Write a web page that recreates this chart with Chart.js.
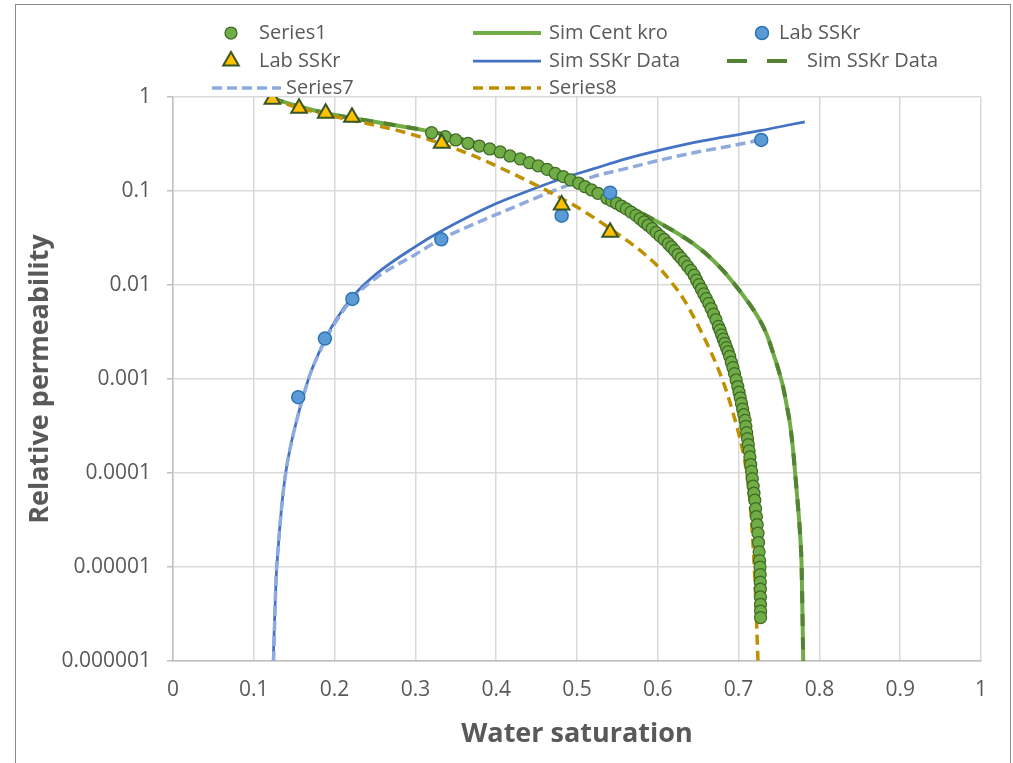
<!DOCTYPE html>
<html lang="en">
<head>
    <meta charset="UTF-8">
    <title>Relative permeability</title>
    <style>
        body {
            margin: 0;
            background: #ffffff;
        }

        .chart-box {
            position: relative;
            width: 1013px;
            height: 763px;
        }

        .frame {
            position: absolute;
            left: 15px;
            top: 4px;
            width: 994px;
            height: 800px;
            border: 1px solid #8c8c8c;
            pointer-events: none;
        }
    </style>
</head>
<body>
    <div class="chart-box">
        <canvas id="kr-chart"></canvas>
        <div class="frame"></div>
    </div>

    <script src="https://cdn.jsdelivr.net/npm/chart.js"></script>
    <script>
        // tick labels
        const xTickLabels = ['0', '0.1', '0.2', '0.3', '0.4', '0.5', '0.6', '0.7', '0.8', '0.9', '1'];
        const yTickValues = [0.000001, 0.00001, 0.0001, 0.001, 0.01, 0.1, 1];
        const yTickLabels = ['0.000001', '0.00001', '0.0001', '0.001', '0.01', '0.1', '1'];

        // Series1 - green circles (kro points)
        const series1Sw = [0.320, 0.337, 0.350, 0.365, 0.379, 0.392, 0.405, 0.417, 0.430, 0.441, 0.452, 0.463, 0.473,
            0.483, 0.492, 0.502, 0.510, 0.518, 0.526, 0.537, 0.543, 0.549, 0.555, 0.561, 0.567, 0.573, 0.578, 0.583,
            0.588, 0.593, 0.598, 0.603, 0.608, 0.613, 0.617, 0.621, 0.625, 0.629, 0.633, 0.637, 0.641, 0.645, 0.648,
            0.651, 0.654, 0.657, 0.660, 0.663, 0.666, 0.669, 0.672, 0.675, 0.677, 0.679, 0.681, 0.683, 0.685, 0.687,
            0.689, 0.691, 0.693, 0.695, 0.697, 0.699, 0.7005, 0.702, 0.7035, 0.705, 0.7065, 0.708, 0.709, 0.710, 0.711,
            0.712, 0.713, 0.714, 0.715, 0.716, 0.717, 0.718, 0.719, 0.720, 0.721, 0.722, 0.723, 0.724, 0.7247, 0.7254,
            0.726, 0.7265, 0.7267, 0.7268, 0.7269, 0.727, 0.7271, 0.7272, 0.7272];
        const series1Kr = [0.417, 0.378, 0.349, 0.322, 0.301, 0.280, 0.260, 0.236, 0.219, 0.200, 0.185, 0.170, 0.154,
            0.142, 0.131, 0.121, 0.111, 0.1025, 0.0945, 0.0836, 0.0785, 0.0741, 0.0692, 0.0646, 0.0596, 0.0550, 0.0507,
            0.0468, 0.0432, 0.0398, 0.0363, 0.0331, 0.0305, 0.0275, 0.0254, 0.0232, 0.0211, 0.0193, 0.0176, 0.0158,
            0.0143, 0.0127, 0.0113, 0.0101, 0.00902, 0.00804, 0.00716, 0.00638, 0.00562, 0.00490, 0.00427, 0.00363,
            0.00331, 0.00295, 0.00266, 0.00240, 0.00216, 0.00195, 0.00174, 0.00151, 0.00132, 0.00114, 0.000977,
            0.000832, 0.000724, 0.000631, 0.000550, 0.000479, 0.000417, 0.000363, 0.000313, 0.000269, 0.000232,
            0.000200, 0.000172, 0.000148, 0.000123, 0.000104, 0.0000871, 0.0000724, 0.0000610, 0.0000513, 0.0000417,
            0.0000343, 0.0000282, 0.0000229, 0.0000182, 0.0000145, 0.0000117, 0.00001, 0.0000083, 0.0000069,
            0.0000058, 0.0000048, 0.0000040, 0.0000034, 0.0000029];

        // Sim Cent kro - light green solid
        const simCentSw = [0.122, 0.157, 0.190, 0.223, 0.273, 0.320, 0.368, 0.417, 0.463, 0.501, 0.541, 0.600, 0.644,
            0.670, 0.695, 0.726, 0.735, 0.743, 0.750, 0.755, 0.760, 0.764, 0.767, 0.770, 0.773, 0.776, 0.778, 0.780];
        const simCentKr = [0.97, 0.788, 0.671, 0.593, 0.504, 0.428, 0.335, 0.245, 0.175, 0.127, 0.087, 0.0468, 0.0275,
            0.0178, 0.0102, 0.00427, 0.00295, 0.00186, 0.0012, 0.00083, 0.0005, 0.000316, 0.00019, 0.0001, 0.00005,
            0.000023, 0.00001, 0.000001];

        // Lab SSKr - blue circles (krw)
        const labKrwSw = [0.155, 0.188, 0.222, 0.332, 0.481, 0.541, 0.728];
        const labKrwKr = [0.00064, 0.00269, 0.0071, 0.0306, 0.0546, 0.096, 0.349];

        // Lab SSKr - yellow triangles (kro)
        const labKroSw = [0.123, 0.156, 0.189, 0.2215, 0.3325, 0.481, 0.541];
        const labKroKr = [0.945, 0.758, 0.671, 0.608, 0.322, 0.071, 0.0363];

        // Sim SSKr Data - blue solid (krw)
        const simKrwSw = [0.124, 0.1275, 0.1303, 0.1345, 0.1386, 0.1448, 0.153, 0.1613, 0.1696, 0.180, 0.190, 0.200,
            0.222, 0.252, 0.299, 0.330, 0.400, 0.438, 0.479, 0.520, 0.5615, 0.6027, 0.644, 0.685, 0.7265, 0.768, 0.782];
        const simKrwKr = [0.000001, 0.0000072, 0.0000166, 0.000044, 0.000089, 0.00018, 0.00036, 0.00066, 0.00112, 0.00185,
            0.00284, 0.00405, 0.00745, 0.0132, 0.0253, 0.0366, 0.0735, 0.099, 0.1335, 0.172, 0.221, 0.272, 0.327, 0.378,
            0.438, 0.516, 0.545];

        // Sim SSKr Data - dark green dashed (kro)
        const simKroSw = [0.122, 0.157, 0.190, 0.223, 0.273, 0.320, 0.368, 0.417, 0.463, 0.501, 0.541, 0.600, 0.644,
            0.670, 0.695, 0.726, 0.735, 0.743, 0.750, 0.755, 0.760, 0.764, 0.767, 0.770, 0.773, 0.776, 0.778, 0.780];
        const simKroKr = [0.97, 0.788, 0.671, 0.593, 0.504, 0.428, 0.335, 0.245, 0.175, 0.127, 0.087, 0.0468, 0.0275,
            0.0178, 0.0102, 0.00427, 0.00295, 0.00186, 0.0012, 0.00083, 0.0005, 0.000316, 0.00019, 0.0001, 0.00005,
            0.000023, 0.00001, 0.000001];

        // Series7 - light blue dashed
        const series7Sw = [0.1245, 0.1275, 0.1303, 0.1345, 0.1386, 0.1448, 0.153, 0.1613, 0.1696, 0.180, 0.190, 0.200,
            0.222, 0.252, 0.299, 0.330, 0.384, 0.425, 0.479, 0.520, 0.5615, 0.6027, 0.644, 0.685, 0.716, 0.724];
        const series7Kr = [0.000001, 0.0000072, 0.0000166, 0.000044, 0.000089, 0.00018, 0.00036, 0.00066, 0.00112, 0.00182,
            0.00275, 0.00389, 0.00708, 0.0120, 0.0209, 0.0302, 0.049, 0.069, 0.107, 0.142, 0.174, 0.213, 0.255, 0.296,
            0.334, 0.347];

        // Series8 - gold dashed
        const series8Sw = [0.122, 0.157, 0.190, 0.223, 0.273, 0.314, 0.343, 0.376, 0.417, 0.458, 0.480, 0.500, 0.541,
            0.582, 0.600, 0.615, 0.632, 0.648, 0.665, 0.681, 0.693, 0.704, 0.710, 0.715, 0.720, 0.724];
        const series8Kr = [0.955, 0.759, 0.646, 0.562, 0.452, 0.359, 0.295, 0.229, 0.158, 0.106, 0.0841, 0.0676, 0.0398,
            0.0219, 0.0158, 0.0112, 0.00708, 0.00398, 0.00200, 0.00093, 0.00044, 0.00019, 0.0001, 0.00004, 0.0000079,
            0.000001];

        const FONT = '"Open Sans", "DejaVu Sans", sans-serif';
        const TEXT = '#595959';

        function pairs(xs, ys) {
            return xs.map((x, i) => ({ x: x, y: ys[i] }));
        }

        function pointSet(label, xs, ys, style, fill, border, radius, width, order) {
            return {
                label: label, data: pairs(xs, ys), showLine: false, order: order,
                pointStyle: style, pointRadius: radius, pointHoverRadius: radius,
                backgroundColor: fill, borderColor: border, pointBorderWidth: width, borderWidth: width
            };
        }

        function lineSet(label, xs, ys, color, width, dash, order) {
            return {
                label: label, data: pairs(xs, ys), showLine: true, order: order,
                borderColor: color, backgroundColor: color, borderWidth: width, borderDash: dash,
                pointRadius: 0, pointHoverRadius: 0, cubicInterpolationMode: 'monotone', fill: false
            };
        }

        const datasets = [
            pointSet('Series1', series1Sw, series1Kr, 'circle', '#70AD47', '#3F6B25', 6, 1.25, 3),
            lineSet('Sim Cent kro', simCentSw, simCentKr, '#70AD47', 4, [], 14),
            pointSet('Lab SSKr', labKrwSw, labKrwKr, 'circle', '#5B9BD5', '#2E75B6', 6.5, 1.5, 2),
            pointSet('Lab SSKr', labKroSw, labKroKr, 'triangle', '#FFC000', '#375623', 9, 2, 1),
            lineSet('Sim SSKr Data', simKrwSw, simKrwKr, '#4472C4', 2.75, [], 13),
            lineSet('Sim SSKr Data', simKroSw, simKroKr, '#548235', 4, [12, 11], 12),
            lineSet('Series7', series7Sw, series7Kr, '#8FAADC', 3.5, [10, 5], 11),
            lineSet('Series8', series8Sw, series8Kr, '#BF9000', 3.5, [10, 6], 10)
        ];

        // legend laid out like the Excel one: [symbol start, symbol end, text x, row y]
        const legendSlots = [
            [231, 231, 259, 33], [473, 541, 549, 33], [762, 762, 779, 33],
            [231, 231, 259, 61], [473, 541, 549, 61], [727, 787, 807, 61],
            [212, 281, 286, 88], [473, 541, 549, 88]
        ];

        const excelLegend = {
            id: 'excelLegend',
            afterDraw(chart) {
                const ctx = chart.ctx;
                ctx.save();
                chart.data.datasets.forEach((ds, i) => {
                    const [x0, x1, tx, y] = legendSlots[i];
                    if (ds.showLine) {
                        // long dash reads as two bars in the legend
                        const dash = ds.borderDash.length && ds.borderDash[0] > 11 ? [20, 20] : ds.borderDash;
                        ctx.beginPath();
                        ctx.strokeStyle = ds.borderColor;
                        ctx.lineWidth = ds.borderWidth;
                        ctx.setLineDash(dash);
                        ctx.moveTo(x0, y);
                        ctx.lineTo(x1, y);
                        ctx.stroke();
                        ctx.setLineDash([]);
                    } else {
                        ctx.fillStyle = ds.backgroundColor;
                        ctx.strokeStyle = ds.borderColor;
                        ctx.lineWidth = ds.pointBorderWidth;
                        Chart.helpers.drawPoint(ctx, {
                            pointStyle: ds.pointStyle, radius: ds.pointRadius, rotation: 0, borderWidth: ds.pointBorderWidth
                        }, x0, y);
                    }
                    ctx.fillStyle = TEXT;
                    ctx.font = '20px ' + FONT;
                    ctx.textAlign = 'left';
                    ctx.textBaseline = 'middle';
                    ctx.fillText(ds.label, tx, y);
                });
                ctx.restore();
            }
        };

        const ctx = document.getElementById('kr-chart').getContext('2d');
        const krChart = new Chart(ctx, {
            type: 'scatter',
            data: { datasets: datasets },
            plugins: [excelLegend],
            options: {
                responsive: true,
                maintainAspectRatio: false,
                animation: false,
                layout: { padding: { top: 97, right: 32, left: 0, bottom: 0 } },
                plugins: {
                    legend: { display: false },
                    tooltip: { enabled: false }
                },
                scales: {
                    x: {
                        type: 'linear',
                        min: 0,
                        max: 1,
                        afterFit: (scale) => { scale.height = 102; },
                        ticks: {
                            stepSize: 0.1,
                            color: TEXT,
                            padding: 16,
                            font: { family: FONT, size: 21 },
                            callback: (value, index) => xTickLabels[index]
                        },
                        grid: { color: '#d9d9d9', lineWidth: 1.5, drawTicks: false },
                        border: { color: '#bfbfbf', width: 1.5 },
                        title: {
                            display: true,
                            text: 'Water saturation',
                            color: TEXT,
                            font: { family: FONT, size: 27, weight: 'bold' },
                            padding: { top: 0, bottom: 12 }
                        }
                    },
                    y: {
                        type: 'logarithmic',
                        min: 0.000001,
                        max: 1,
                        afterFit: (scale) => { scale.width = 173; },
                        afterBuildTicks: (scale) => {
                            scale.ticks = yTickValues.map(v => ({ value: v }));
                        },
                        ticks: {
                            color: TEXT,
                            padding: 16,
                            font: { family: FONT, size: 21 },
                            callback: (value, index) => yTickLabels[index]
                        },
                        grid: { color: '#d9d9d9', lineWidth: 1.5, tickLength: 6, tickColor: '#bfbfbf' },
                        border: { color: '#bfbfbf', width: 1.5 },
                        title: {
                            display: true,
                            text: 'Relative permeability',
                            color: TEXT,
                            font: { family: FONT, size: 27, weight: 'bold' },
                            padding: { top: 24, bottom: 0 }
                        }
                    }
                }
            }
        });
    </script>
</body>
</html>
